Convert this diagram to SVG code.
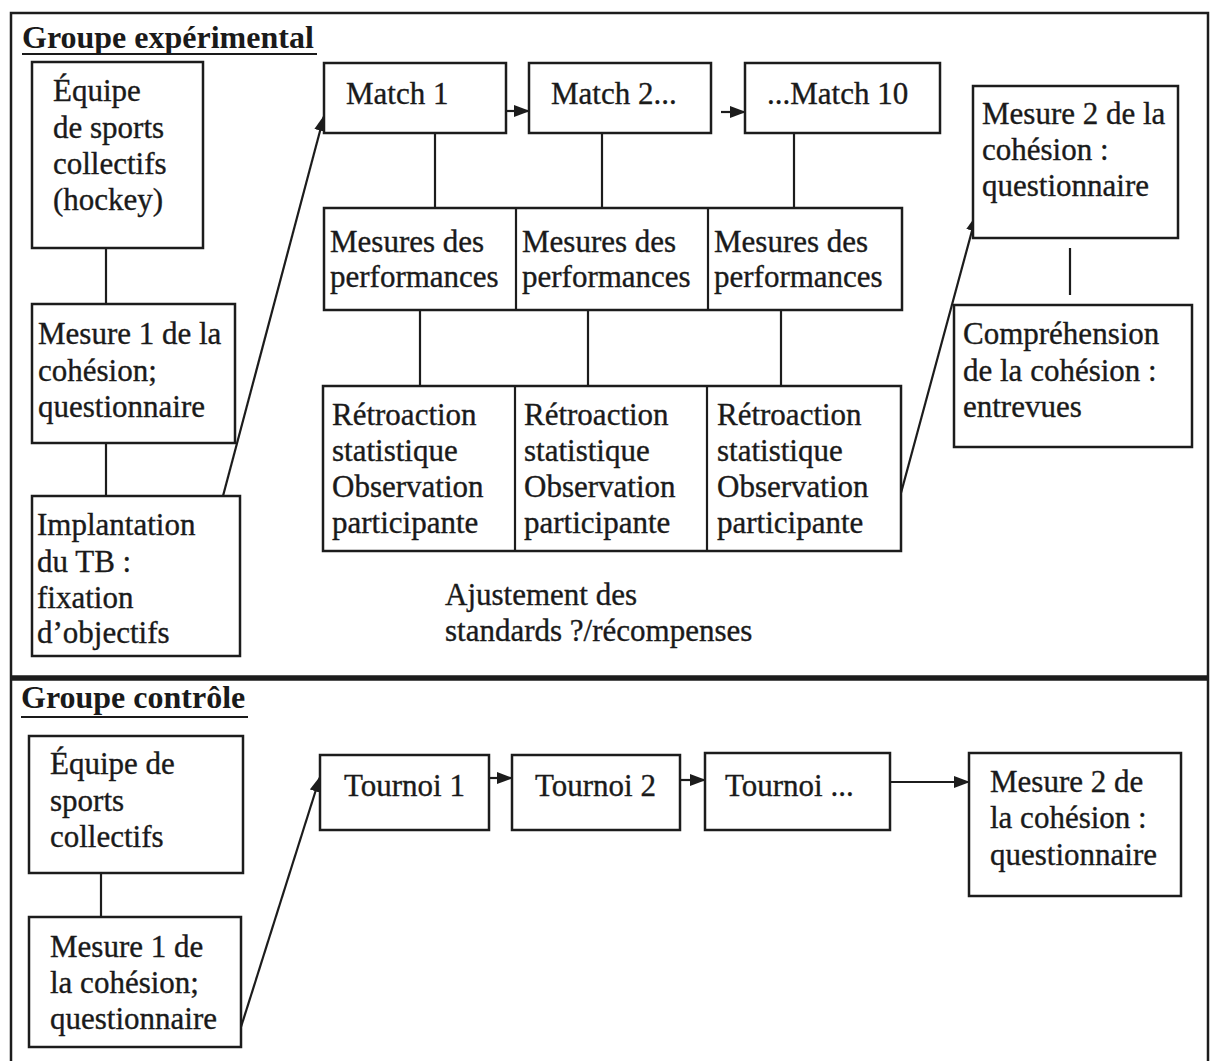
<svg xmlns="http://www.w3.org/2000/svg" width="1210" height="1061" viewBox="0 0 1210 1061">
  <style>
    .box { fill: #ffffff; stroke: #1c1c1c; stroke-width: 2.5; }
    .frame { fill: none; stroke: #1c1c1c; stroke-width: 2.5; }
    .link { fill: none; stroke: #1c1c1c; stroke-width: 2.2; }
    .arrow { fill: none; stroke: #1c1c1c; stroke-width: 2.2; marker-end: url(#head); }
    text { font-family: "Liberation Serif", "Times New Roman", serif; font-size: 31px; fill: #1a1a1a; stroke: #1a1a1a; stroke-width: 0.35; }
    .title { font-weight: bold; font-size: 32px; stroke-width: 0; }
    .rule { stroke: #1a1a1a; stroke-width: 2; }
  </style>
  <defs>
    <marker id="head" viewBox="0 0 16 12" refX="15" refY="6" markerWidth="16" markerHeight="12" markerUnits="userSpaceOnUse" orient="auto">
      <path d="M0,0 L16,6 L0,12 Z" fill="#1c1c1c"/>
    </marker>
  </defs>

  <rect width="1210" height="1061" fill="#ffffff"/>

  <!-- outer frame and section divider -->
  <g id="frame">
    <path class="frame" d="M11,1070 V13 H1208 V1070"/>
    <line x1="11" y1="678" x2="1208" y2="678" stroke="#1c1c1c" stroke-width="5.5"/>
  </g>

  <!-- section titles -->
  <g id="title-experimental">
    <text class="title" x="22" y="48">Groupe expérimental</text>
    <line class="rule" x1="22" y1="54" x2="317" y2="54"/>
  </g>
  <g id="title-controle">
    <text class="title" x="21" y="708">Groupe contrôle</text>
    <line class="rule" x1="21" y1="717" x2="248" y2="717"/>
  </g>

  <!-- connectors -->
  <g id="connectors">
    <line class="link" x1="106" y1="248" x2="106" y2="304"/>
    <line class="link" x1="106" y1="443" x2="106" y2="496"/>
    <line class="arrow" x1="223" y1="496" x2="324" y2="116"/>
    <line class="arrow" x1="506" y1="111" x2="529" y2="111"/>
    <line class="arrow" x1="721" y1="112" x2="745" y2="112"/>
    <line class="link" x1="435" y1="133" x2="435" y2="208"/>
    <line class="link" x1="602" y1="133" x2="602" y2="208"/>
    <line class="link" x1="794" y1="133" x2="794" y2="208"/>
    <line class="link" x1="420" y1="310" x2="420" y2="386"/>
    <line class="link" x1="588" y1="310" x2="588" y2="386"/>
    <line class="link" x1="781" y1="310" x2="781" y2="386"/>
    <line class="arrow" x1="901" y1="493" x2="976" y2="216"/>
    <line class="link" x1="1070" y1="248" x2="1070" y2="295"/>

    <line class="link" x1="101" y1="873" x2="101" y2="917"/>
    <line class="arrow" x1="241" y1="1027" x2="320" y2="777"/>
    <line class="arrow" x1="489" y1="778" x2="512" y2="778"/>
    <line class="arrow" x1="680" y1="780" x2="705" y2="780"/>
    <line class="arrow" x1="890" y1="782" x2="969" y2="782"/>
  </g>

  <!-- experimental group nodes -->
  <g id="equipe-hockey">
    <rect class="box" x="32" y="62" width="171" height="186"/>
    <text x="53" y="101">Équipe</text>
    <text x="53" y="138">de sports</text>
    <text x="53" y="174">collectifs</text>
    <text x="53" y="210">(hockey)</text>
  </g>
  <g id="mesure1-exp">
    <rect class="box" x="32" y="304" width="203" height="139"/>
    <text x="38" y="344">Mesure 1 de la</text>
    <text x="38" y="381">cohésion;</text>
    <text x="38" y="417">questionnaire</text>
  </g>
  <g id="implantation">
    <rect class="box" x="32" y="496" width="208" height="160"/>
    <text x="37" y="535">Implantation</text>
    <text x="37" y="572">du TB :</text>
    <text x="37" y="608">fixation</text>
    <text x="37" y="643">d’objectifs</text>
  </g>
  <g id="match1">
    <rect class="box" x="324" y="63" width="182" height="70"/>
    <text x="346" y="104">Match 1</text>
  </g>
  <g id="match2">
    <rect class="box" x="529" y="63" width="182" height="70"/>
    <text x="551" y="104">Match 2...</text>
  </g>
  <g id="match10">
    <rect class="box" x="745" y="63" width="195" height="70"/>
    <text x="767" y="104">...Match 10</text>
  </g>
  <g id="mesures-perf">
    <rect class="box" x="324" y="208" width="578" height="102"/>
    <line class="link" x1="516" y1="208" x2="516" y2="310"/>
    <line class="link" x1="708" y1="208" x2="708" y2="310"/>
    <text x="330" y="252">Mesures des</text>
    <text x="330" y="287">performances</text>
    <text x="522" y="252">Mesures des</text>
    <text x="522" y="287">performances</text>
    <text x="714" y="252">Mesures des</text>
    <text x="714" y="287">performances</text>
  </g>
  <g id="retroaction">
    <rect class="box" x="323" y="386" width="578" height="165"/>
    <line class="link" x1="515" y1="386" x2="515" y2="551"/>
    <line class="link" x1="707" y1="386" x2="707" y2="551"/>
    <text x="332" y="425">Rétroaction</text>
    <text x="332" y="461">statistique</text>
    <text x="332" y="497">Observation</text>
    <text x="332" y="533">participante</text>
    <text x="524" y="425">Rétroaction</text>
    <text x="524" y="461">statistique</text>
    <text x="524" y="497">Observation</text>
    <text x="524" y="533">participante</text>
    <text x="717" y="425">Rétroaction</text>
    <text x="717" y="461">statistique</text>
    <text x="717" y="497">Observation</text>
    <text x="717" y="533">participante</text>
  </g>
  <g id="ajustement">
    <text x="445" y="605">Ajustement des</text>
    <text x="445" y="641">standards ?/récompenses</text>
  </g>
  <g id="mesure2-exp">
    <rect class="box" x="973" y="86" width="205" height="152"/>
    <text x="982" y="124">Mesure 2 de la</text>
    <text x="982" y="160">cohésion :</text>
    <text x="982" y="196">questionnaire</text>
  </g>
  <g id="comprehension">
    <rect class="box" x="954" y="305" width="238" height="142"/>
    <text x="963" y="344">Compréhension</text>
    <text x="963" y="381">de la cohésion :</text>
    <text x="963" y="417">entrevues</text>
  </g>

  <!-- control group nodes -->
  <g id="equipe-controle">
    <rect class="box" x="29" y="736" width="214" height="137"/>
    <text x="50" y="774">Équipe de</text>
    <text x="50" y="811">sports</text>
    <text x="50" y="847">collectifs</text>
  </g>
  <g id="mesure1-controle">
    <rect class="box" x="29" y="917" width="212" height="130"/>
    <text x="50" y="957">Mesure 1 de</text>
    <text x="50" y="993">la cohésion;</text>
    <text x="50" y="1029">questionnaire</text>
  </g>
  <g id="tournoi1">
    <rect class="box" x="320" y="755" width="169" height="75"/>
    <text x="344" y="796">Tournoi 1</text>
  </g>
  <g id="tournoi2">
    <rect class="box" x="512" y="755" width="168" height="75"/>
    <text x="535" y="796">Tournoi 2</text>
  </g>
  <g id="tournoi-n">
    <rect class="box" x="705" y="753" width="185" height="77"/>
    <text x="725" y="796">Tournoi ...</text>
  </g>
  <g id="mesure2-controle">
    <rect class="box" x="969" y="753" width="212" height="143"/>
    <text x="990" y="792">Mesure 2 de</text>
    <text x="990" y="828">la cohésion :</text>
    <text x="990" y="865">questionnaire</text>
  </g>
</svg>
